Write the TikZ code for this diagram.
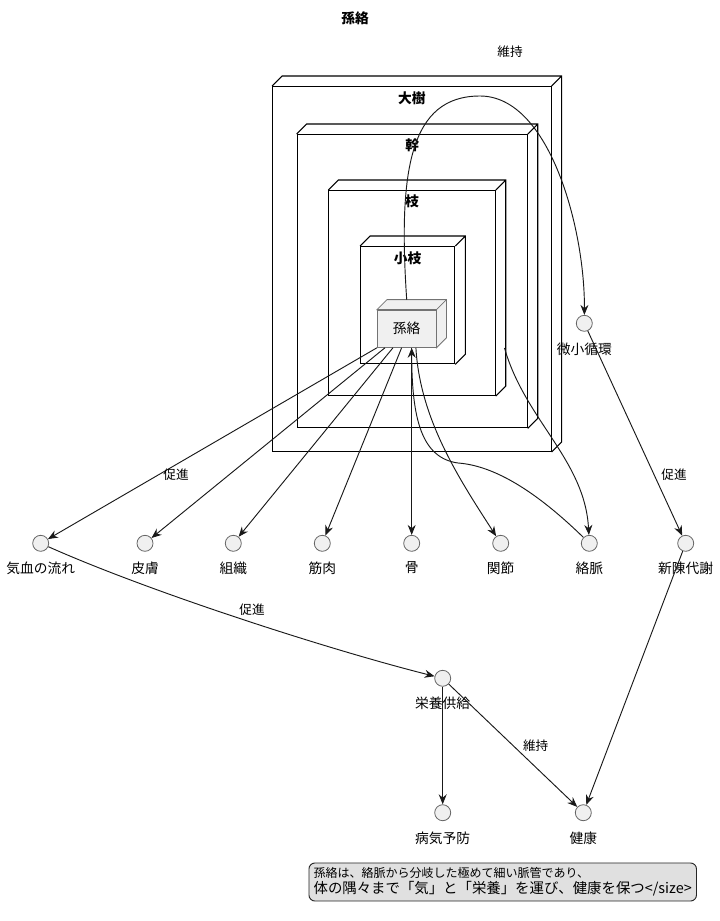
\documentclass[tikz,border=0pt]{standalone}
\usepackage{fontspec}
\setmainfont{Noto Sans CJK JP}
\usetikzlibrary{arrows.meta}
\newcommand\boxthreed[2][]{%
  \draw[#1] (#2.north west) -- ++(10,-10) -- ([shift={(10,-10)}]#2.north east)
     -- ([shift={(10,-10)}]#2.south east) -- (#2.south east)
     (#2.north east) -- ++(10,-10);}
\begin{document}
\begin{tikzpicture}[x=0.75pt,y=-0.75pt,
  box/.style={draw=black, line width=0.8pt, anchor=north west, inner sep=0pt},
  boxline/.style={draw=black, line width=0.8pt},
  boxlabel/.style={font=\bfseries\fontsize{10.3pt}{12pt}\selectfont, inner sep=0pt},
  circ/.style={circle, draw=black!60, fill=black!6, minimum size=12pt, inner sep=0pt, line width=0.6pt},
  lbl/.style={font=\fontsize{10.3pt}{12pt}\selectfont, inner sep=0pt},
  elbl/.style={font=\fontsize{9.5pt}{11pt}\selectfont, inner sep=0pt},
  arr/.style={draw=black!90, line width=0.7pt, -{Stealth[length=7.5pt,width=6pt,inset=2.5pt]}},
  note/.style={draw=black!85, fill=black!12, rounded corners=4.5pt, line width=0.7pt, align=left, inner xsep=3.5pt, inner ysep=3.5pt, anchor=north west},
]
\useasboundingbox (0,0) rectangle (720,921);

% title
\node[boxlabel] (title) at (355,18) {孫絡};

% nested boxes
\node[box, minimum width=208.9pt, minimum height=273.75pt] (taiju) at (272,86) {};
\boxthreed[boxline]{taiju}
\node[boxlabel] (taijul) at ([yshift=-9.2pt]taiju.north) {大樹};

\node[box, minimum width=172.5pt, minimum height=220pt] (miki) at (296.7,134) {};
\boxthreed[boxline]{miki}
\node[boxlabel] (mikil) at ([yshift=-8.3pt]miki.north) {幹};

\node[box, minimum width=124.8pt, minimum height=153.75pt] (eda) at (328.3,190) {};
\boxthreed[boxline]{eda}
\node[boxlabel] (edal) at ([yshift=-8.8pt]eda.north) {枝};

\node[box, minimum width=70.7pt, minimum height=88pt] (koeda) at (360,246) {};
\boxthreed[boxline]{koeda}
\node[boxlabel] (koedal) at ([yshift=-9.2pt]koeda.north) {小枝};

% 孫絡 node
\node[draw=black!55, fill=black!6, line width=0.6pt, minimum width=44pt, minimum height=28pt, inner sep=0pt, font=\fontsize{10.3pt}{12pt}\selectfont] (sonraku) at (406.7,328.7) {孫絡};
\filldraw[draw=black!55, fill=black!6, line width=0.6pt]
  (sonraku.north west) -- ++(10,-10) -- ([shift={(10,-10)}]sonraku.north east)
  -- ([shift={(10,-10)}]sonraku.south east) -- (sonraku.south east) -- (sonraku.north east) -- cycle;
\draw[draw=black!55, line width=0.6pt] (sonraku.north east) -- ++(10,-10);

% circles row
\foreach \n/\x/\t in {kiketsu/40.7/気血の流れ, hifu/145/皮膚, soshiki/233.3/組織, kinniku/322.3/筋肉, hone/411.7/骨, kansetsu/500.7/関節, rakumyaku/589.3/絡脈, shinchin/685.7/新陳代謝}{
  \node[circ] (\n) at (\x,543.3) {};
  \node[lbl] (\n l) at (\x,568) {\t};
}
\node[circ] (micro) at (584.3,323.3) {};
\node[lbl] (microl) at (584.3,349) {微小循環};
\node[circ] (eiyou) at (442.7,678.3) {};
\node[lbl] (eiyoul) at (442.7,703) {栄養供給};
\node[circ] (byouki) at (442.7,812.7) {};
\node[lbl] (byoukil) at (442.7,838.5) {病気予防};
\node[circ] (kenkou) at (583.3,812.7) {};
\node[lbl] (kenkoul) at (583.3,838.5) {健康};

% edges from 孫絡
\draw[arr] (sonraku.south west) -- (kiketsu);
\draw[arr] ([xshift=6pt]sonraku.south west) -- (hifu);
\draw[arr] ([xshift=12pt]sonraku.south west) -- (soshiki);
\draw[arr] ([xshift=18.5pt]sonraku.south west) -- (kinniku);
\draw[arr] (sonraku.south -| hone) -- (hone);
\draw[arr] ([xshift=29.2pt]sonraku.south west) .. controls (420,420) and (460,480) .. (kansetsu);
\draw[arr] (rakumyaku.north west) .. controls (545,500) and (500,466) .. (458,463)
   .. controls (422,458) and (411.7,420) .. (sonraku.south -| hone);
\coordinate (edaR) at (504.5,348);
\draw[arr] (edaR) .. controls (525,420) and (585,460) .. (rakumyaku);
\draw[arr] ([yshift=7.5pt]sonraku.north) .. controls (398,170) and (410,96) .. (480,96)
   .. controls (550,96) and (585,230) .. (micro);
\node[elbl] (iji1) at (510,52) {維持};

\node[elbl] (sok1) at (176,475) {促進};
\draw[arr] (micro) -- (shinchin);
\node[elbl] (sok2) at (674,475) {促進};
\draw[arr] (kiketsu) .. controls (150,592) and (330,650) .. (eiyou);
\node[elbl] (sok3) at (252,610) {促進};
\draw[arr] (eiyou) -- (byouki);
\draw[arr] (eiyou) -- (kenkou);
\node[elbl] (iji2) at (535.7,746) {維持};
\draw[arr] (shinchin) -- (kenkou);

% note
\node[note] (note) at (308.5,862.5) {{\fontsize{9pt}{11pt}\selectfont 孫絡は、絡脈から分岐した極めて細い脈管であり、}\\[0pt]{\fontsize{10.8pt}{13pt}\selectfont 体の隅々まで「気」と「栄養」を運び、健康を保つ</size>}};
\end{tikzpicture}
\end{document}
